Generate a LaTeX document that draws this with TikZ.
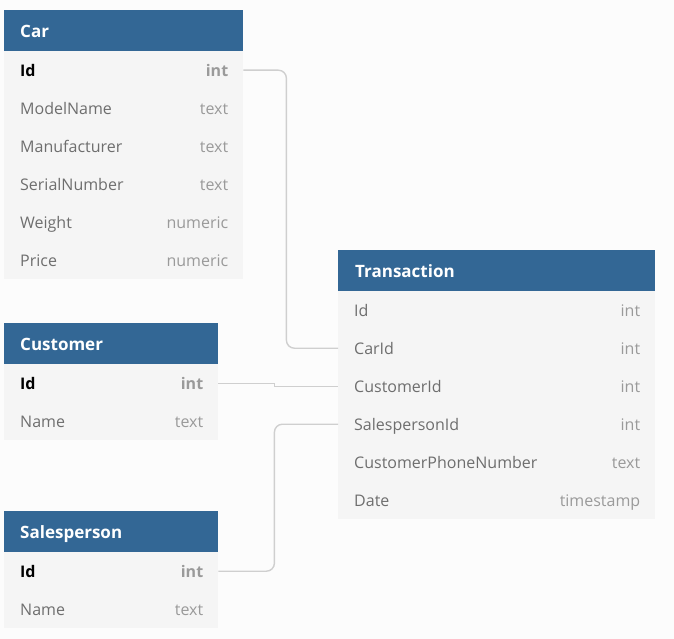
\documentclass[tikz,border=0pt]{standalone}
\usepackage{fontspec}
\setmainfont{Open Sans}
\definecolor{hdrblue}{HTML}{336795}
\definecolor{pagebg}{HTML}{FCFCFC}
\definecolor{bodybg}{HTML}{F5F5F5}
\definecolor{namegray}{HTML}{6E6E6E}
\definecolor{typegray}{HTML}{9A9A9A}
\definecolor{linkgray}{HTML}{CFCFCF}

\tikzset{
  hdr/.style={fill=hdrblue, draw=none, anchor=north west, minimum height=41, inner sep=0},
  hdrtext/.style={text=white, anchor=base west, inner sep=0, font=\bfseries\fontsize{17}{20}\selectfont},
  fieldrow/.style={fill=bodybg, draw=none, anchor=north west, minimum height=38, inner sep=0},
  fname/.style={text=namegray, anchor=base west, inner sep=0, font=\fontsize{16}{19}\selectfont},
  ftype/.style={text=typegray, anchor=base east, inner sep=0, font=\fontsize{16}{19}\selectfont},
  keyname/.style={fname, text=black, font=\bfseries\fontsize{16}{19}\selectfont},
  keytype/.style={ftype, font=\bfseries\fontsize{16}{19}\selectfont},
  link/.style={draw=linkgray, line width=1.4pt}
}

% #1 node name, #2 x, #3 top y, #4 width, #5 name style, #6 field, #7 type style, #8 type
\newcommand\fieldrow[8]{
  \node[fieldrow, minimum width=#4] (#1) at (#2,#3) {};
  \node[#5] at ([xshift=16, yshift=-6.5]#1.west) {#6};
  \node[#7] at ([xshift=-15, yshift=-6.5]#1.east) {#8};
}

\begin{document}
\begin{tikzpicture}[x=1pt, y=-1pt]
  \fill[pagebg] (0,0) rectangle (674,639);
  \useasboundingbox (0,0) rectangle (674,639);

  % Car
  \node[hdr, minimum width=239] (car) at (4,10) {};
  \node[hdrtext] at ([xshift=16, yshift=-7]car.west) {Car};
  \fieldrow{car-id}{4}{51}{239}{keyname}{Id}{keytype}{int}
  \fieldrow{car-model}{4}{89}{239}{fname}{ModelName}{ftype}{text}
  \fieldrow{car-manu}{4}{127}{239}{fname}{Manufacturer}{ftype}{text}
  \fieldrow{car-serial}{4}{165}{239}{fname}{SerialNumber}{ftype}{text}
  \fieldrow{car-weight}{4}{203}{239}{fname}{Weight}{ftype}{numeric}
  \fieldrow{car-price}{4}{241}{239}{fname}{Price}{ftype}{numeric}

  % Customer
  \node[hdr, minimum width=214] (cust) at (4,323) {};
  \node[hdrtext] at ([xshift=16, yshift=-7]cust.west) {Customer};
  \fieldrow{cust-id}{4}{364}{214}{keyname}{Id}{keytype}{int}
  \fieldrow{cust-name}{4}{402}{214}{fname}{Name}{ftype}{text}

  % Salesperson
  \node[hdr, minimum width=214] (sales) at (4,511) {};
  \node[hdrtext] at ([xshift=16, yshift=-7]sales.west) {Salesperson};
  \fieldrow{sales-id}{4}{552}{214}{keyname}{Id}{keytype}{int}
  \fieldrow{sales-name}{4}{590}{214}{fname}{Name}{ftype}{text}

  % Transaction
  \node[hdr, minimum width=317] (tr) at (338,250) {};
  \node[hdrtext] at ([xshift=17, yshift=-7]tr.west) {Transaction};
  \fieldrow{tr-id}{338}{291}{317}{fname}{Id}{ftype}{int}
  \fieldrow{tr-carid}{338}{329}{317}{fname}{CarId}{ftype}{int}
  \fieldrow{tr-custid}{338}{367}{317}{fname}{CustomerId}{ftype}{int}
  \fieldrow{tr-salesid}{338}{405}{317}{fname}{SalespersonId}{ftype}{int}
  \fieldrow{tr-phone}{338}{443}{317}{fname}{CustomerPhoneNumber}{ftype}{text}
  \fieldrow{tr-date}{338}{481}{317}{fname}{Date}{ftype}{timestamp}

  % links
  \draw[link, rounded corners=8] (car-id.east) -- ++(43,0) |- (tr-carid.west);
  \draw[link] (cust-id.east) -- ++(56,0) |- (tr-custid.west);
  \draw[link, rounded corners=8] (sales-id.east) -- ++(56,0) |- (tr-salesid.west);
\end{tikzpicture}
\end{document}
